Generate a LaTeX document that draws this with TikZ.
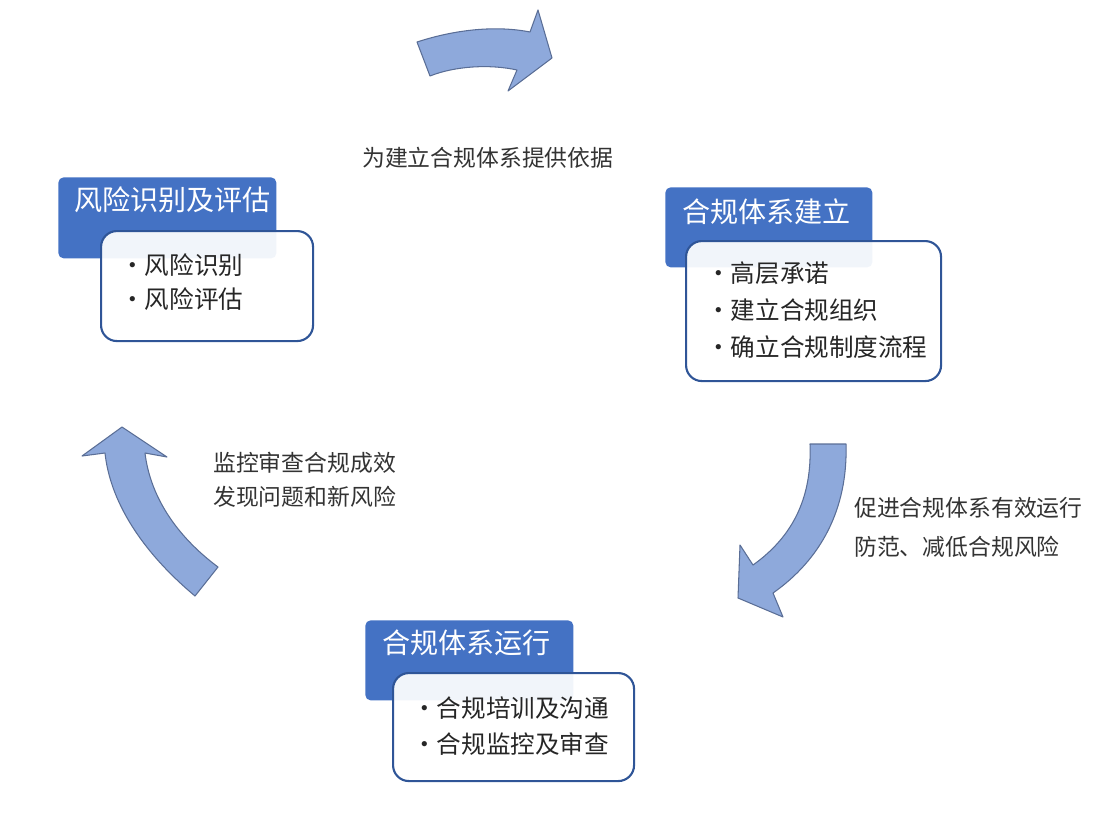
\documentclass[tikz,border=0pt]{standalone}
\usepackage{fontspec}
\setmainfont{Noto Sans CJK SC}
\tikzset{
  head/.style={fill=hdblue, rounded corners=3pt, text=white, anchor=north west,
    inner sep=0pt, font=\fontsize{16}{18}\selectfont},
  body/.style={draw=bdblue, line width=1.2pt, fill=white, fill opacity=0.93,
    text opacity=1, rounded corners=9pt, anchor=north west, inner sep=0pt},
  item/.style={anchor=west, font=\fontsize{14}{16}\selectfont, text=black!85},
  note/.style={anchor=west, font=\fontsize{13}{15}\selectfont, text=black!80},
  bigarrow/.style={fill=arfill, draw=arline, line width=0.6pt, line join=round}
}
\definecolor{hdblue}{HTML}{4472C4}
\definecolor{bdblue}{HTML}{2F5597}
\definecolor{arfill}{HTML}{8EA9DB}
\definecolor{arline}{HTML}{5A6E96}
\begin{document}
\begin{tikzpicture}[x=0.02cm, y=-0.02cm]
    \useasboundingbox (0,0) rectangle (1108,812);

    % curved arrows
    \draw[bigarrow] (417,42) .. controls (460,28) and (500,26) .. (530,32)
        -- (538,10) -- (552,58) -- (508,91) -- (517,70)
        .. controls (490,64) and (455,66) .. (430,76) -- cycle;
    \draw[bigarrow] (810,444) -- (846,444)
        .. controls (848,510) and (820,560) .. (773,593)
        -- (783,617) -- (738,598) -- (740,545) -- (753,565)
        .. controls (795,535) and (812,495) .. cycle;
    \draw[bigarrow] (218,567) -- (195,596)
        .. controls (140,550) and (110,500) .. (105,453)
        -- (82,456) -- (122,427) -- (167,457) -- (145,453)
        .. controls (150,495) and (175,535) .. cycle;

    % box 1
    \node[head, minimum width=218*0.02cm, minimum height=81*0.02cm] (h1) at (58,177) {};
    \node[anchor=west, text=white, font=\fontsize{16}{18}\selectfont] (t1) at (68,200) {风险识别及评估};
    \node[body, minimum width=212*0.02cm, minimum height=110*0.02cm] (b1) at (100,230) {};
    \node[item] (i11) at (114,265) {•风险识别};
    \node[item] (i12) at (114,299) {•风险评估};

    % box 2
    \node[head, minimum width=207*0.02cm, minimum height=80*0.02cm] (h2) at (665,187) {};
    \node[anchor=west, text=white, font=\fontsize{16}{18}\selectfont] (t2) at (676,212) {合规体系建立};
    \node[body, minimum width=255*0.02cm, minimum height=140*0.02cm] (b2) at (685,240) {};
    \node[item] (i21) at (700,273) {•高层承诺};
    \node[item] (i22) at (700,310) {•建立合规组织};
    \node[item] (i23) at (700,347) {•确立合规制度流程};

    % box 3
    \node[head, minimum width=208*0.02cm, minimum height=80*0.02cm] (h3) at (365,620) {};
    \node[anchor=west, text=white, font=\fontsize{16}{18}\selectfont] (t3) at (376,643) {合规体系运行};
    \node[body, minimum width=241*0.02cm, minimum height=108*0.02cm] (b3) at (392,672) {};
    \node[item] (i31) at (406,708) {•合规培训及沟通};
    \node[item] (i32) at (406,744) {•合规监控及审查};

    % notes
    \node[note] (n1) at (356,158) {为建立合规体系提供依据};
    \node[note] (n2) at (848,508) {促进合规体系有效运行};
    \node[note] (n3) at (848,547) {防范、减低合规风险};
    \node[note] (n4) at (207,463) {监控审查合规成效};
    \node[note] (n5) at (207,497) {发现问题和新风险};
\end{tikzpicture}
\end{document}
